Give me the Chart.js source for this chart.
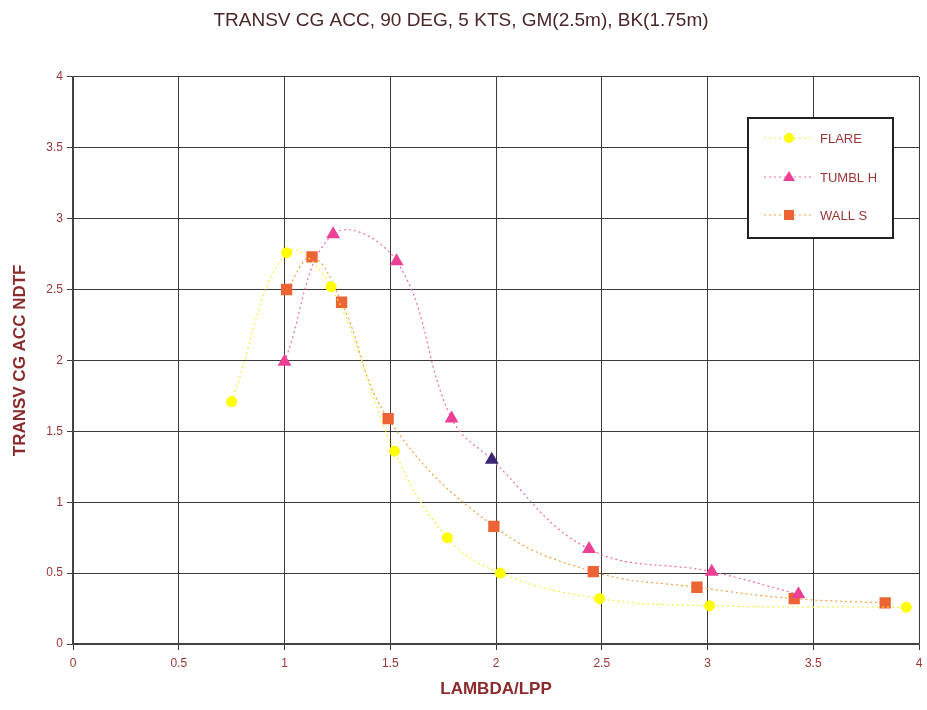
<!DOCTYPE html>
<html>
<head>
<meta charset="utf-8">
<script src="https://cdn.jsdelivr.net/npm/chart.js@4"></script>
<style>
  body { margin: 0; background: #fff; }
  #wrap { width: 927px; height: 710px; }
</style>
</head>
<body>
<div id="wrap"><canvas id="ndtfChart" width="927" height="710"></canvas></div>
<script>
// values
const flareX = [0.75, 1.01, 1.22, 1.52, 1.77, 2.02, 2.49, 3.01, 3.94];
const flareY = [1.71, 2.76, 2.52, 1.36, 0.75, 0.50, 0.32, 0.27, 0.26];
const tumblX = [1.00, 1.23, 1.53, 1.79, 1.98, 2.44, 3.02, 3.43];
const tumblY = [1.99, 2.89, 2.70, 1.59, 1.30, 0.67, 0.51, 0.35];
const wallX = [1.01, 1.13, 1.27, 1.49, 1.99, 2.46, 2.95, 3.41, 3.84];
const wallY = [2.50, 2.73, 2.41, 1.59, 0.83, 0.51, 0.40, 0.32, 0.29];
const seriesNames = ['FLARE', 'TUMBL H', 'WALL S'];

const textRed = '#9a3535';
const fontFam = '"Liberation Sans", Arial, sans-serif';

function pts(xs, ys) {
  return xs.map((x, i) => ({ x: x, y: ys[i] }));
}

// triangle at x~2 is drawn dark in the original
const tumblFill = tumblX.map((x, i) => i === 4 ? '#3d2470' : '#ec3f96');

// legend box inside the plot, like the spreadsheet one
const boxLegend = {
  id: 'boxLegend',
  afterDraw(chart) {
    const ctx = chart.ctx;
    const x0 = 748, y0 = 118, w = 145, h = 120;
    ctx.save();
    ctx.fillStyle = '#fff';
    ctx.fillRect(x0, y0, w, h);
    ctx.strokeStyle = '#222';
    ctx.lineWidth = 2;
    ctx.strokeRect(x0, y0, w, h);
    const rows = [138, 177, 215];
    chart.data.datasets.forEach((ds, i) => {
      const y = rows[i];
      ctx.strokeStyle = ds.borderColor;
      ctx.lineWidth = 1;
      ctx.setLineDash([2, 3]);
      ctx.beginPath();
      ctx.moveTo(764, y);
      ctx.lineTo(814, y);
      ctx.stroke();
      ctx.setLineDash([]);
      ctx.fillStyle = i === 1 ? '#ec3f96' : ds.pointBackgroundColor;
      ctx.beginPath();
      if (i === 0) {
        ctx.arc(789, y, 5, 0, Math.PI * 2);
      } else if (i === 1) {
        ctx.moveTo(789, y - 6);
        ctx.lineTo(795, y + 4);
        ctx.lineTo(783, y + 4);
        ctx.closePath();
      } else {
        ctx.rect(784, y - 5, 10, 10);
      }
      ctx.fill();
      ctx.fillStyle = textRed;
      ctx.font = '13px ' + fontFam;
      ctx.textBaseline = 'middle';
      ctx.fillText(ds.label, 820, y + 1);
    });
    ctx.restore();
  }
};

const ctxNdtf = document.getElementById('ndtfChart').getContext('2d');
const ndtfChart = new Chart(ctxNdtf, {
  type: 'scatter',
  data: {
    datasets: [{
      label: seriesNames[0],
      data: pts(flareX, flareY),
      showLine: true,
      borderColor: '#f2ee3a',
      borderWidth: 1.2,
      borderDash: [2, 3],
      tension: 0.4,
      pointStyle: 'circle',
      pointRadius: 5.5,
      pointBackgroundColor: '#ffff00',
      pointBorderWidth: 0
    }, {
      label: seriesNames[1],
      data: pts(tumblX, tumblY),
      showLine: true,
      borderColor: '#ee6aa8',
      borderWidth: 1.2,
      borderDash: [2, 3],
      tension: 0.4,
      pointStyle: 'triangle',
      pointRadius: 8,
      pointBackgroundColor: tumblFill,
      pointBorderWidth: 0
    }, {
      label: seriesNames[2],
      data: pts(wallX, wallY),
      showLine: true,
      borderColor: '#f0a040',
      borderWidth: 1.2,
      borderDash: [2, 3],
      tension: 0.4,
      pointStyle: 'rect',
      pointRadius: 8,
      pointBackgroundColor: '#ec6334',
      pointBorderWidth: 0
    }]
  },
  options: {
    responsive: false,
    animation: false,
    layout: { padding: { left: 0, right: 5, top: 0, bottom: 0 } },
    plugins: {
      legend: { display: false },
      tooltip: { enabled: false },
      title: {
        display: true,
        text: 'TRANSV CG ACC, 90 DEG, 5 KTS, GM(2.5m), BK(1.75m)',
        color: '#4a2626',
        font: { family: fontFam, size: 19, weight: 'normal' },
        padding: { top: 9, bottom: 45 }
      }
    },
    scales: {
      x: {
        type: 'linear',
        min: 0,
        max: 4,
        ticks: {
          stepSize: 0.5, color: textRed, font: { family: fontFam, size: 12 }, padding: 6,
          callback: v => String(v)
        },
        grid: { color: '#3a3a3a', lineWidth: 1, tickLength: 6 },
        border: { color: '#444', width: 1.5 },
        title: {
          display: true,
          text: 'LAMBDA/LPP',
          color: '#8a2a2a',
          font: { family: fontFam, size: 17, weight: 'bold' },
          padding: { top: 0, bottom: 10 }
        },
        afterFit(scale) {
          scale.height = 66;
          scale.paddingRight = 0;
          scale.paddingLeft = 0;
        }
      },
      y: {
        min: 0,
        max: 4,
        ticks: {
          stepSize: 0.5, color: textRed, font: { family: fontFam, size: 12 }, padding: 4,
          callback: v => String(v)
        },
        grid: { color: '#3a3a3a', lineWidth: 1, tickLength: 6 },
        border: { color: '#444', width: 1.5 },
        title: {
          display: true,
          text: 'TRANSV CG ACC NDTF',
          color: '#8a2a2a',
          font: { family: fontFam, size: 17, weight: 'bold' },
          padding: { top: 10, bottom: 0 }
        },
        afterFit(scale) { scale.width = 73; }
      }
    }
  },
  plugins: [boxLegend]
});
</script>
</body>
</html>
